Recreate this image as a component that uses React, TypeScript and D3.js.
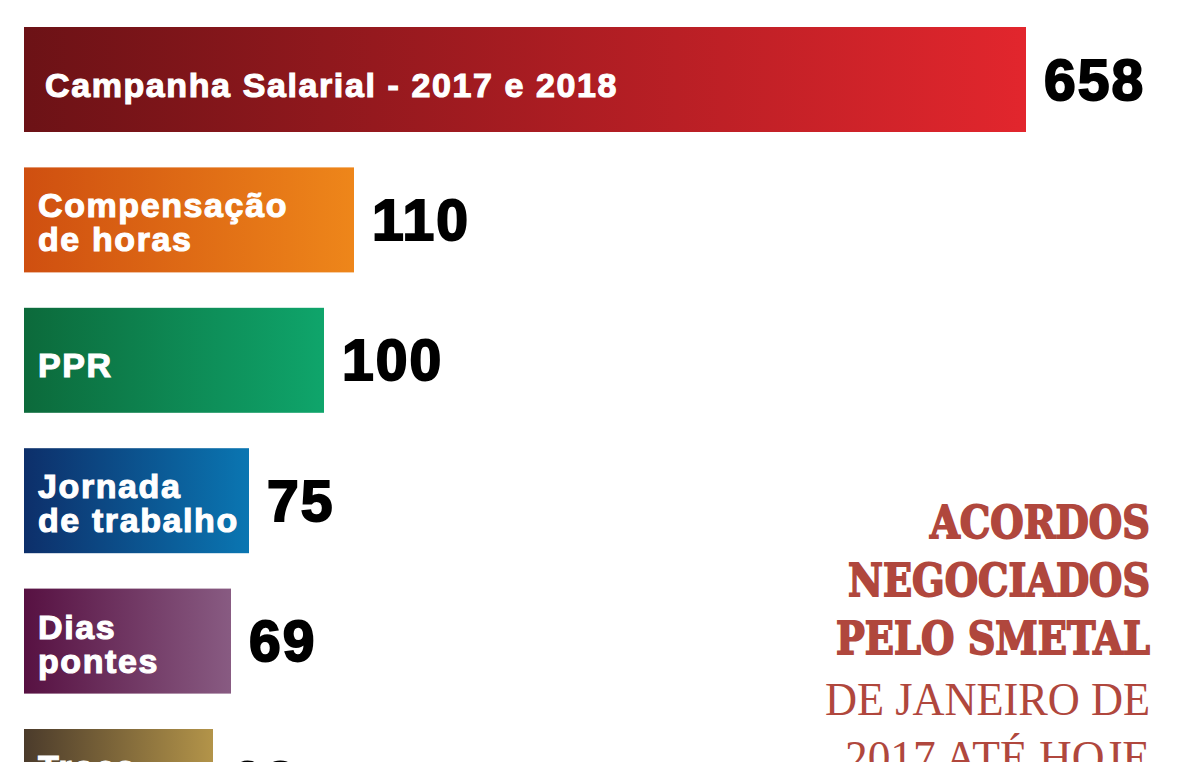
import React from 'react';
import * as d3 from 'd3';

// data
const categories = [
  ['Campanha Salarial - 2017 e 2018'],
  ['Compensação', 'de horas'],
  ['PPR'],
  ['Jornada', 'de trabalho'],
  ['Dias', 'pontes'],
  ['Troca', 'de turno'],
];
const values = [658, 110, 100, 75, 69, 63];
const colorsFrom = ['#6c1216', '#cf4f10', '#0c6a3b', '#0d2f6a', '#571142', '#4b3b2b'];
const colorsTo = ['#e2262d', '#ee861a', '#0fa56b', '#0a76b2', '#885b82', '#b39449'];

const titleBold = ['ACORDOS', 'NEGOCIADOS', 'PELO SMETAL'];
const titleLight = ['DE JANEIRO DE', '2017 ATÉ HOJE'];

const W = 1200;
const H = 762;

function Bar({ i, label, value, x, y, h }: any) {
  const w = x(value) - x(0);
  const top = y(String(i));
  const labelFont = {
    fill: '#fff',
    stroke: '#fff',
    strokeWidth: 1.1,
    fontFamily: '"Liberation Sans", Arial, sans-serif',
    fontWeight: 700,
    fontSize: 34,
    letterSpacing: 1.6,
  };
  return (
    <g>
      <rect x={x(0)} y={top} width={w} height={h} fill={`url(#grad${i})`} />
      {label.length === 1 ? (
        <text x={x(0) + (i === 0 ? 21 : 14)} y={top + h / 2 + 17} style={labelFont}>
          {label[0]}
        </text>
      ) : (
        <text style={labelFont}>
          <tspan x={x(0) + 14} y={top + 50}>{label[0]}</tspan>
          <tspan x={x(0) + 14} y={top + 84}>{label[1]}</tspan>
        </text>
      )}
      <text
        x={x(value) + 18}
        y={top + h / 2 + 20}
        fill="#000"
        stroke="#000"
        strokeWidth={2}
        style={{
          fontFamily: '"Liberation Sans", Arial, sans-serif',
          fontWeight: 700,
          fontSize: 57,
          letterSpacing: 2,
        }}
      >
        {value}
      </text>
    </g>
  );
}

export default function App() {
  // broken scale: the first bar is compressed
  const x = d3.scaleLinear().domain([0, 110, 658]).range([24, 354, 1026]);
  const step = 140.4;
  const bh = 105;
  const y = d3.scaleBand()
    .domain(values.map((_, i) => String(i)))
    .range([27, 27 + step * (values.length - 1) + bh])
    .paddingInner(1 - bh / step)
    .paddingOuter(0)
    .align(0);

  const titleColor = '#b0473d';
  const boldWidths = [220, 302, 314];
  const lightWidths = [325, 305];

  return (
    <svg width={W} height={H} style={{ position: 'absolute', left: 0, top: 0, background: '#fff' }}>
      <defs>
        {values.map((_, i) => (
          <linearGradient key={i} id={`grad${i}`} x1="0" x2="1" y1="0" y2="0">
            <stop offset="0%" stopColor={colorsFrom[i]} />
            <stop offset="100%" stopColor={colorsTo[i]} />
          </linearGradient>
        ))}
      </defs>
      <rect width={W} height={H} fill="#fff" />
      {values.map((v, i) => (
        <Bar key={i} i={i} label={categories[i]} value={v} x={x} y={y} h={y.bandwidth()} />
      ))}
      <g fill={titleColor} textAnchor="end">
        {titleBold.map((t, i) => (
          <text
            key={t}
            x={1150}
            y={538 + i * 58}
            textLength={boldWidths[i]}
            lengthAdjust="spacingAndGlyphs"
            stroke={titleColor}
            strokeWidth={1.8}
            style={{ fontFamily: '"DejaVu Serif", serif', fontWeight: 700, fontSize: 45 }}
          >
            {t}
          </text>
        ))}
        {titleLight.map((t, i) => (
          <text
            key={t}
            x={1150}
            y={715 + i * 58}
            textLength={lightWidths[i]}
            lengthAdjust="spacingAndGlyphs"
            style={{ fontFamily: '"Liberation Serif", serif', fontWeight: 400, fontSize: 47 }}
          >
            {t}
          </text>
        ))}
      </g>
    </svg>
  );
}
